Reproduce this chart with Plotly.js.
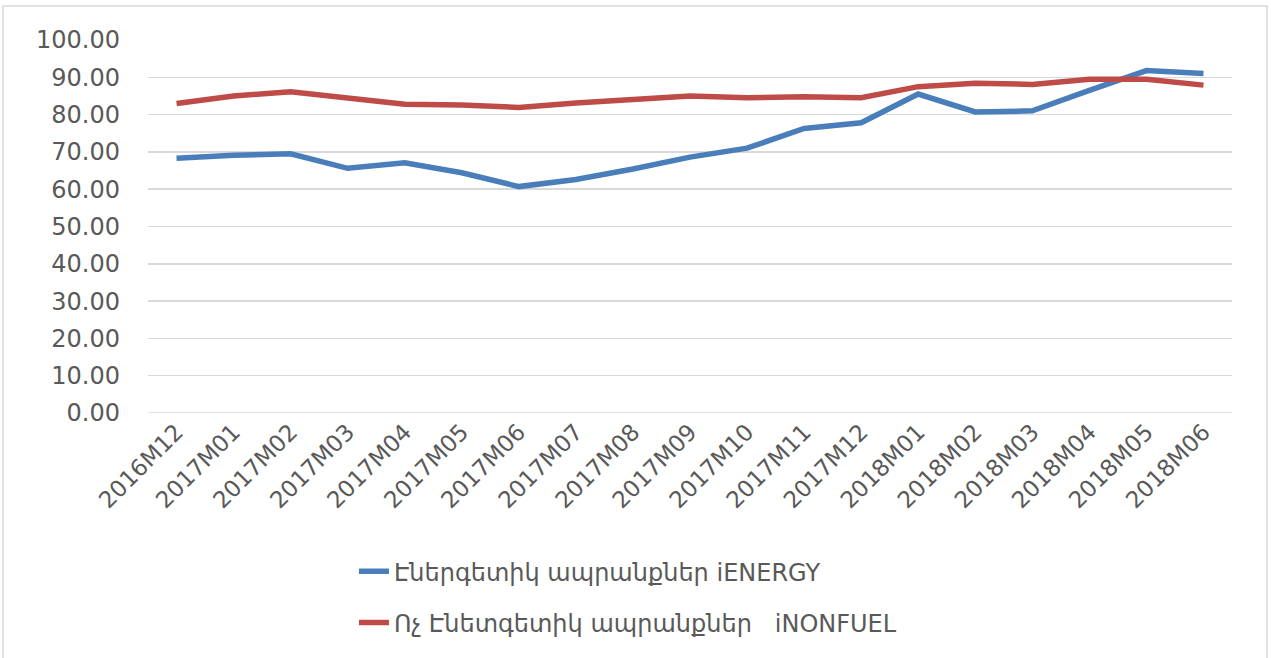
<!DOCTYPE html>
<html>
<head>
<meta charset="utf-8">
<script src="https://cdn.plot.ly/plotly-3.0.1.min.js"></script>
<style>
  body { margin: 0; background: #fff; }
  #chart { width: 1271px; height: 658px; }
</style>
</head>
<body>
<div id="chart"></div>
<script>
// months on the category axis
let months = ['2016M12', '2017M01', '2017M02', '2017M03', '2017M04', '2017M05', '2017M06',
              '2017M07', '2017M08', '2017M09', '2017M10', '2017M11', '2017M12',
              '2018M01', '2018M02', '2018M03', '2018M04', '2018M05', '2018M06'];

// energy index
let energy = [68.3, 69.1, 69.5, 65.6, 67.1, 64.4, 60.7, 62.6, 65.4, 68.6, 71.0,
              76.3, 77.8, 85.5, 80.7, 81.0, 86.5, 91.8, 91.0];

// non-fuel index
let nonfuel = [83.0, 85.0, 86.1, 84.5, 82.8, 82.6, 81.9, 83.1, 84.0, 85.0, 84.5,
               84.8, 84.5, 87.5, 88.4, 88.1, 89.5, 89.5, 87.9];

let yTicks = [0, 10, 20, 30, 40, 50, 60, 70, 80, 90, 100];

let energyName = 'Էներգետիկ ապրանքներ iENERGY';
let nonfuelName = 'Ոչ Էնետգետիկ ապրանքներ   iNONFUEL';

let font = '"DejaVu Sans", "Noto Sans", sans-serif';

let traceEnergy = {
    x: months,
    y: energy,
    mode: 'lines',
    type: 'scatter',
    name: energyName,
    legendgroup: 'energy',
    line: { color: '#4a7ebb', width: 5.5 }
};

let traceNonfuel = {
    x: months,
    y: nonfuel,
    mode: 'lines',
    type: 'scatter',
    name: nonfuelName,
    legendgroup: 'nonfuel',
    line: { color: '#be4b48', width: 5.5 }
};

let layout = {
    width: 1271,
    height: 658,
    margin: { l: 148, r: 39, t: 40, b: 245 },
    paper_bgcolor: '#ffffff',
    plot_bgcolor: '#ffffff',
    font: { family: font, color: '#595959', size: 20 },
    showlegend: true,
    legend: {
        orientation: 'v',
        x: 0.19,
        y: -0.365,
        xanchor: 'left',
        yanchor: 'top',
        font: { size: 24, color: '#595959' },
        tracegroupgap: 17
    },
    xaxis: {
        type: 'category',
        tickangle: -45,
        tickfont: { size: 23, color: '#595959' },
        showgrid: false,
        showline: false,
        zeroline: false,
        ticks: '',
        range: [-0.5, months.length - 0.5]
    },
    yaxis: {
        range: [0, 100],
        tickvals: yTicks,
        ticktext: yTicks.map(v => v.toFixed(2)),
        tickfont: { size: 24, color: '#595959' },
        gridcolor: '#d9d9d9',
        gridwidth: 1.5,
        zeroline: false,
        showline: false,
        ticks: '',
        ticklabelstandoff: 27
    },
    shapes: [
        {
            type: 'rect',
            xref: 'paper', yref: 'paper',
            x0: (3 - 148) / 1084, x1: (1267 - 148) / 1084,
            y0: -(660 - 413) / 373, y1: (413 - 6) / 373,
            line: { color: '#d9d9d9', width: 1.5 },
            layer: 'below'
        },
        {
            type: 'line',
            xref: 'paper', yref: 'y',
            x0: 0, x1: 1, y0: 0, y1: 0,
            line: { color: '#d9d9d9', width: 1.5 },
            layer: 'below'
        }
    ]
};

Plotly.newPlot('chart', [traceEnergy, traceNonfuel], layout, { displayModeBar: false, staticPlot: true });
</script>
</body>
</html>
